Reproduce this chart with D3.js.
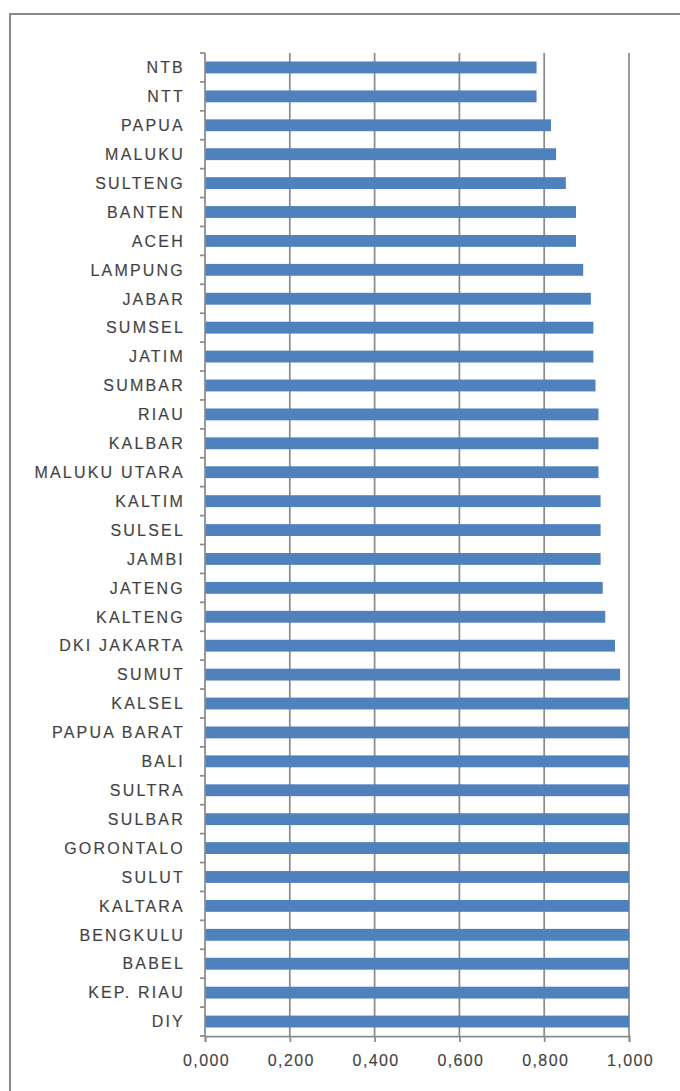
<!DOCTYPE html>
<html>
<head>
<meta charset="utf-8">
<script src="https://cdn.jsdelivr.net/npm/d3@7"></script>
<style>
  body { margin: 0; background: #fff; }
  svg text { font-family: "Liberation Sans", Arial, sans-serif; fill: #404040; stroke: #666; stroke-width: 0.2px; }
</style>
</head>
<body>
<div id="vis"></div>
<script>
const provinces = ["NTB", "NTT", "PAPUA", "MALUKU", "SULTENG", "BANTEN", "ACEH", "LAMPUNG",
  "JABAR", "SUMSEL", "JATIM", "SUMBAR", "RIAU", "KALBAR", "MALUKU UTARA", "KALTIM",
  "SULSEL", "JAMBI", "JATENG", "KALTENG", "DKI JAKARTA", "SUMUT", "KALSEL", "PAPUA BARAT",
  "BALI", "SULTRA", "SULBAR", "GORONTALO", "SULUT", "KALTARA", "BENGKULU", "BABEL",
  "KEP. RIAU", "DIY"];

const scores = [0.782, 0.782, 0.816, 0.828, 0.851, 0.875, 0.875, 0.892,
  0.910, 0.916, 0.916, 0.921, 0.928, 0.928, 0.928, 0.933,
  0.933, 0.933, 0.938, 0.944, 0.967, 0.979, 1.000, 1.000,
  1.000, 1.000, 1.000, 1.000, 1.000, 1.000, 1.000, 1.000,
  1.000, 1.000];

const xTicks = [0, 0.2, 0.4, 0.6, 0.8, 1.0];

const data = provinces.map((p, i) => ({ name: p, value: scores[i] }));

const W = 680, H = 1091;
const margin = { top: 53, right: 51, bottom: 55, left: 205 };
const width = W - margin.left - margin.right,
      height = H - margin.top - margin.bottom;

const svg = d3.select("#vis")
  .append("svg")
  .attr("width", W)
  .attr("height", H);

// chart frame
svg.append("rect")
  .attr("x", 10)
  .attr("y", 14)
  .attr("width", W + 20)
  .attr("height", H + 20)
  .attr("fill", "none")
  .attr("stroke", "#8a8a8a")
  .attr("stroke-width", 2);

const g = svg.append("g")
  .attr("transform", `translate(${margin.left},${margin.top})`);

const x = d3.scaleLinear()
  .domain([0, 1])
  .range([0, width]);

const y = d3.scaleBand()
  .domain(provinces)
  .range([0, height])
  .paddingInner(0.59)
  .paddingOuter(0.295);

const locale = d3.formatLocale({ decimal: ",", thousands: ".", grouping: [3], currency: ["", ""] });
const fmt = locale.format(".3f");

// gridlines
g.append("g")
  .selectAll("line")
  .data(xTicks.slice(1))
  .join("line")
  .attr("x1", d => x(d))
  .attr("x2", d => x(d))
  .attr("y1", 0)
  .attr("y2", height)
  .attr("stroke", "#8c8c8c")
  .attr("stroke-width", 1.75);

// bars
g.append("g")
  .selectAll("rect")
  .data(data)
  .join("rect")
  .attr("x", x(0))
  .attr("y", d => y(d.name))
  .attr("width", d => x(d.value) - x(0))
  .attr("height", y.bandwidth())
  .attr("fill", "#4f81bd");

// x axis
const xAxis = g.append("g")
  .attr("transform", `translate(0,${height})`)
  .call(d3.axisBottom(x).tickValues(xTicks).tickFormat(fmt).tickSize(6).tickPadding(10));
xAxis.select(".domain").attr("stroke", "#8c8c8c").attr("stroke-width", 1.75);
xAxis.selectAll(".tick line").attr("stroke", "#8c8c8c").attr("stroke-width", 1.75);
xAxis.selectAll(".tick text")
  .attr("font-size", 16)
  .style("letter-spacing", "1.4px")
  .attr("dx", "1px")
  .attr("dy", "0.9em");

// y axis with ticks at band boundaries
const yAxisG = g.append("g");
yAxisG.append("line")
  .attr("x1", 0).attr("x2", 0)
  .attr("y1", 0).attr("y2", height)
  .attr("stroke", "#8c8c8c")
  .attr("stroke-width", 1.75);

const bounds = d3.range(provinces.length + 1).map(i => i * height / provinces.length);
yAxisG.selectAll("line.tk")
  .data(bounds)
  .join("line")
  .attr("class", "tk")
  .attr("x1", -5).attr("x2", 0)
  .attr("y1", d => d).attr("y2", d => d)
  .attr("stroke", "#8c8c8c")
  .attr("stroke-width", 1.75);

yAxisG.selectAll("text")
  .data(data)
  .join("text")
  .attr("x", -20)
  .attr("y", d => y(d.name) + y.bandwidth() / 2)
  .attr("dy", "0.36em")
  .attr("text-anchor", "end")
  .attr("font-size", 16)
  .style("letter-spacing", "2.2px")
  .text(d => d.name);
</script>
</body>
</html>
